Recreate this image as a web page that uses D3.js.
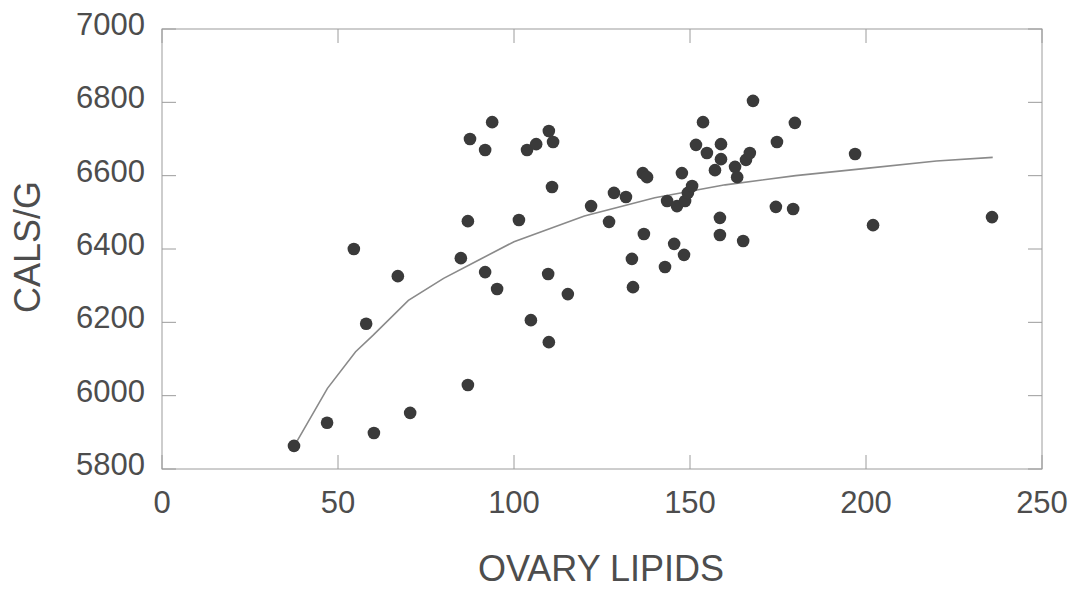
<!DOCTYPE html>
<html lang="en">
<head>
  <meta charset="UTF-8" />
  <title>Cals/g vs ovary lipids</title>
  <script src="https://d3js.org/d3.v7.min.js"></script>
  <style>
    body { margin: 0; padding: 0; background: #fff; }
    svg { display: block; }
    .tick-label { font-family: "Liberation Sans", Arial, sans-serif; fill: #4d4d4d; }
    .title { font-family: "Liberation Sans", Arial, sans-serif; fill: #4d4d4d; font-size: 36px; }
  </style>
</head>
<body>
<svg width="1076" height="589"></svg>
<script>
// measured points (ovary lipids, cals/g)
const lipids = [37.5, 46.9, 60.2, 70.5, 54.5, 58.0, 67.0, 84.9, 86.9, 87.5,
  86.9, 91.8, 93.8, 91.8, 95.2, 101.4, 103.7, 106.3, 109.9, 111.1,
  110.8, 109.7, 104.8, 109.9, 115.3, 121.9, 127.0, 128.4, 131.8, 136.6,
  137.8, 133.5, 133.8, 136.9, 142.9, 143.5, 145.5, 146.3, 148.3, 147.7,
  148.6, 149.4, 150.6, 151.7, 153.7, 154.8, 157.1, 158.8, 158.8, 158.5,
  158.5, 162.8, 163.4, 165.1, 165.9, 167.0, 167.9, 174.7, 174.4, 179.3,
  179.8, 196.9, 202.0, 235.8];
const cals = [5863, 5926, 5898, 5953, 6400, 6196, 6326, 6375, 6029, 6700,
  6476, 6670, 6746, 6337, 6291, 6479, 6670, 6686, 6722, 6692,
  6569, 6332, 6206, 6146, 6277, 6517, 6474, 6553, 6542, 6607,
  6596, 6373, 6296, 6441, 6351, 6531, 6414, 6517, 6384, 6607,
  6531, 6553, 6572, 6684, 6746, 6662, 6615, 6686, 6645, 6485,
  6438, 6624, 6596, 6422, 6643, 6662, 6804, 6692, 6515, 6509,
  6744, 6659, 6465, 6487];

// fitted curve
const fitX = [38, 47, 55, 60, 70, 80, 90, 100, 120, 140, 160, 180, 200, 220, 236];
const fitY = [5870, 6020, 6120, 6165, 6260, 6320, 6370, 6420, 6490, 6540, 6575, 6600, 6620, 6640, 6650];

const xTicks = [0, 50, 100, 150, 200, 250];
const yTicks = [5800, 6000, 6200, 6400, 6600, 6800, 7000];

const svg = d3.select('svg');
const L = 162, R = 1042, T = 29, B = 469, TICK = 14;

const x = d3.scaleLinear().domain([0, 250]).range([L, R]);
const y = d3.scaleLinear().domain([5800, 7000]).range([B, T]);

// frame
svg.append('rect')
  .attr('x', L).attr('y', T).attr('width', R - L).attr('height', B - T)
  .attr('fill', 'none').attr('stroke', '#9c9c9c').attr('stroke-width', 1);

// inner ticks on all four sides
const tickG = svg.append('g').attr('stroke', '#9c9c9c').attr('stroke-width', 1);
xTicks.forEach(t => {
  tickG.append('line').attr('x1', x(t)).attr('x2', x(t)).attr('y1', B).attr('y2', B - TICK);
  tickG.append('line').attr('x1', x(t)).attr('x2', x(t)).attr('y1', T).attr('y2', T + TICK);
});
yTicks.forEach(t => {
  tickG.append('line').attr('x1', L).attr('x2', L + TICK).attr('y1', y(t)).attr('y2', y(t));
  tickG.append('line').attr('x1', R).attr('x2', R - TICK).attr('y1', y(t)).attr('y2', y(t));
});

// tick labels
svg.selectAll('.xl').data(xTicks).enter().append('text')
  .attr('class', 'tick-label')
  .attr('x', d => x(d)).attr('y', 513)
  .attr('text-anchor', 'middle')
  .style('font-size', '31px')
  .text(d => d);

svg.selectAll('.yl').data(yTicks).enter().append('text')
  .attr('class', 'tick-label')
  .attr('x', 145).attr('y', d => y(d) + 6)
  .attr('text-anchor', 'end')
  .style('font-size', '31px')
  .text(d => d);

// axis titles
svg.append('text').attr('class', 'title')
  .attr('x', 601).attr('y', 581).attr('text-anchor', 'middle')
  .text('OVARY LIPIDS');
svg.append('text').attr('class', 'title')
  .attr('transform', 'translate(40,247) rotate(-90)')
  .attr('text-anchor', 'middle')
  .text('CALS/G');

// fit line
const fit = fitX.map((v, i) => [v, fitY[i]]);
svg.append('path')
  .datum(fit)
  .attr('fill', 'none')
  .attr('stroke', '#8a8a8a')
  .attr('stroke-width', 1.6)
  .attr('d', d3.line().x(d => x(d[0])).y(d => y(d[1])));

// points
const pts = lipids.map((v, i) => [v, cals[i]]);
svg.selectAll('.dot').data(pts).enter().append('circle')
  .attr('cx', d => x(d[0]))
  .attr('cy', d => y(d[1]))
  .attr('r', 6.3)
  .attr('fill', '#3a3a3a');
</script>
</body>
</html>
